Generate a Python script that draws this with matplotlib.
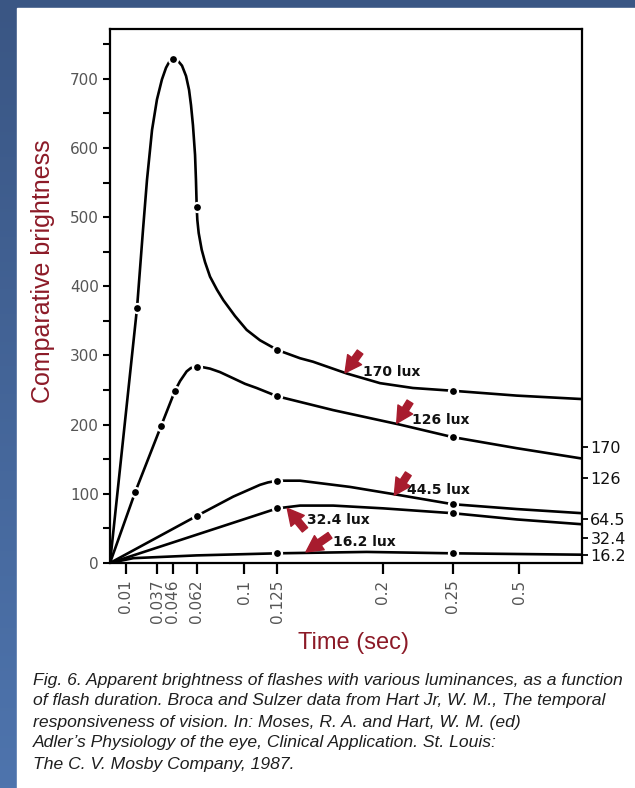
import numpy as np
import matplotlib
matplotlib.use("Agg")
import matplotlib.pyplot as plt
from matplotlib.colors import LinearSegmentedColormap

# ---------------------------------------------------------------------------
# Data (time in sec, comparative brightness)
# ---------------------------------------------------------------------------
lux_labels = ["170 lux", "126 lux", "44.5 lux", "32.4 lux", "16.2 lux"]

t_170 = [0, 0.0197, 0.0248, 0.0282, 0.0325, 0.0367, 0.0397, 0.0421, 0.0443, 0.046,
         0.0495, 0.0522, 0.0549, 0.0569, 0.0582, 0.0595, 0.0609, 0.0615, 0.062,
         0.0625, 0.0636, 0.066, 0.0687, 0.0727, 0.0783, 0.0834, 0.0928, 0.102, 0.112,
         0.125, 0.1412, 0.1504, 0.1744, 0.1981, 0.2216, 0.25, 0.49, 1.0]
v_170 = [0, 369, 482, 554, 626, 670, 699, 716, 726, 728,
         726, 719, 704, 684, 662, 633, 590, 554, 515,
         496, 477, 453, 435, 414, 395, 380, 357, 337, 322,
         308, 296, 291, 274, 260, 253, 249, 242, 237]
dot_t_170 = [0.0197, 0.046, 0.062, 0.125, 0.25]
dot_v_170 = [369, 728, 515, 308, 249]

t_126 = [0, 0.018, 0.0392, 0.0475, 0.0509, 0.0553, 0.0582, 0.062, 0.0671, 0.0727,
         0.0807, 0.0914, 0.1008, 0.1095, 0.125, 0.1648, 0.2124, 0.25, 0.49, 1.0]
v_126 = [0, 102, 198, 249, 263, 277, 282, 283, 283, 281,
         276, 267, 259, 253, 241, 221, 200, 182, 166, 151]
dot_t_126 = [0.018, 0.0392, 0.0475, 0.062, 0.125, 0.25]
dot_v_126 = [102, 198, 249, 283, 241, 182]

t_44 = [0, 0.062, 0.0914, 0.112, 0.118, 0.125, 0.1412, 0.1767, 0.2124, 0.25, 0.49, 1.0]
v_44 = [0, 68, 96, 113, 116.5, 119, 119, 110, 98, 85, 78, 72]
dot_t_44 = [0.062, 0.125, 0.25]
dot_v_44 = [68, 119, 85]

t_32 = [0, 0.125, 0.1412, 0.1648, 0.2004, 0.25, 0.49, 1.0]
v_32 = [0, 79, 83, 83, 79, 72, 63, 56]
dot_t_32 = [0.125, 0.25]
dot_v_32 = [79, 72]

t_16 = [0, 0.0165, 0.062, 0.125, 0.1886, 0.25, 1.0]
v_16 = [0, 7, 11, 14, 16, 14, 12]
dot_t_16 = [0.125, 0.25]
dot_v_16 = [14, 14]

# arrow head, arrow tail and label anchor for each luminance note
arrow_head = [(0.1732, 275), (0.210, 202), (0.2083, 98), (0.1321, 79), (0.1454, 16)]
arrow_tail = [(0.1839, 305), (0.2195, 233), (0.2183, 129), (0.1447, 48), (0.1625, 40)]
label_at = [(0.186, 276), (0.2207, 207), (0.2171, 106), (0.1459, 62), (0.1648, 31)]

x_ticks = [0.01, 0.037, 0.046, 0.062, 0.1, 0.125, 0.2, 0.25, 0.5]
x_ticklabels = ["0.01", "0.037", "0.046", "0.062", "0.1", "0.125", "0.2", "0.25", "0.5"]
y_major = [0, 100, 200, 300, 400, 500, 600, 700]
y_minor = [50, 150, 250, 350, 450, 550, 650, 750]
lux_ticks = [168, 123, 64, 36, 12]
lux_ticklabels = ["170", "126", "64.5", "32.4", "16.2"]

caption = [
    "Fig. 6. Apparent brightness of flashes with various luminances, as a function",
    "of flash duration. Broca and Sulzer data from Hart Jr, W. M., The temporal",
    "responsiveness of vision. In: Moses, R. A. and Hart, W. M. (ed)",
    "Adler\u2019s Physiology of the eye, Clinical Application. St. Louis:",
    "The C. V. Mosby Company, 1987.",
]

# the printed time axis is neither linear nor log: piecewise map of the ticks
scale_t = [0, 0.01, 0.037, 0.046, 0.062, 0.1, 0.125, 0.2, 0.25, 0.5, 1.0]
scale_u = [0, 15.7, 47.3, 62.7, 86.7, 134, 167.3, 272.7, 342.7, 409.3, 472]


def fwd(t):
    return np.interp(t, scale_t, scale_u)


def inv(u):
    return np.interp(u, scale_u, scale_t)


RED = "#8c1a27"
ARROW = "#a81c2e"

fig = plt.figure(figsize=(6.35, 7.88), dpi=100)

# slide background: blue gradient with a white panel
bg = fig.add_axes([0, 0, 1, 1])
grad = np.linspace(0, 1, 256).reshape(-1, 1)
cmap = LinearSegmentedColormap.from_list("slide", ["#3a5684", "#4e74ad"])
bg.imshow(grad, aspect="auto", cmap=cmap, extent=[0, 1, 0, 1], origin="upper")
bg.add_patch(plt.Rectangle((17 / 635, 0), 1, 1 - 8 / 788, color="white"))
bg.set_xlim(0, 1)
bg.set_ylim(0, 1)
bg.axis("off")

ax = fig.add_axes([110 / 635, 225 / 788, 472 / 635, 534 / 788])
ax.set_xscale("function", functions=(fwd, inv))
ax.set_xlim(0, 1.0)
ax.set_ylim(0, 772)

series = [
    (t_170, v_170, dot_t_170, dot_v_170),
    (t_126, v_126, dot_t_126, dot_v_126),
    (t_44, v_44, dot_t_44, dot_v_44),
    (t_32, v_32, dot_t_32, dot_v_32),
    (t_16, v_16, dot_t_16, dot_v_16),
]
for t, v, dt, dv in series:
    ax.plot(t, v, color="black", lw=1.9, solid_joinstyle="round",
            solid_capstyle="round", zorder=2)
    ax.plot(dt, dv, "o", ms=6.5, mfc="black", mec="white", mew=1.6, zorder=3)

for name, head, tail, pos in zip(lux_labels, arrow_head, arrow_tail, label_at):
    ax.annotate("", xy=head, xytext=tail,
                arrowprops=dict(arrowstyle="simple,head_length=0.9,head_width=0.95,tail_width=0.38",
                                color=ARROW, mutation_scale=13, shrinkA=0, shrinkB=0),
                zorder=4)
    ax.text(pos[0], pos[1], name, ha="left", va="center", fontsize=10,
            fontweight="bold", color="#111111", zorder=5)

for side in ["left", "right", "top", "bottom"]:
    ax.spines[side].set_linewidth(1.6)

ax.set_xticks(x_ticks)
ax.set_xticklabels(x_ticklabels, rotation=90, fontsize=11, color="#555555")
ax.xaxis.set_minor_locator(matplotlib.ticker.NullLocator())
ax.tick_params(axis="x", direction="out", length=8, width=1.6, pad=4)

ax.set_yticks(y_major)
ax.set_yticklabels([str(v) for v in y_major], fontsize=11, color="#555555")
ax.set_yticks(y_minor, minor=True)
ax.tick_params(axis="y", which="both", direction="out", length=5, width=1.5, pad=3)

ax_r = ax.twinx()
ax_r.set_ylim(ax.get_ylim())
ax_r.set_yticks(lux_ticks)
ax_r.set_yticklabels(lux_ticklabels, fontsize=11.5, color="#111111")
ax_r.tick_params(axis="y", direction="out", length=4, width=1.3, pad=2)
for side in ["left", "right", "top", "bottom"]:
    ax_r.spines[side].set_visible(False)

fig.text(43 / 635, 1 - 271 / 788, "Comparative brightness", rotation=90,
         ha="center", va="center", fontsize=18, color=RED, family="Liberation Sans")
fig.text(353 / 635, 1 - 643 / 788, "Time (sec)", ha="center", va="center",
         fontsize=17, color=RED, family="Liberation Sans")

for i, line in enumerate(caption):
    fig.text(33 / 635, 1 - (680 + 21 * i) / 788, line, ha="left", va="center",
             fontsize=12.6, style="italic", color="#1e1e1e", family="Liberation Sans")

fig.savefig("out.png", dpi=100)
